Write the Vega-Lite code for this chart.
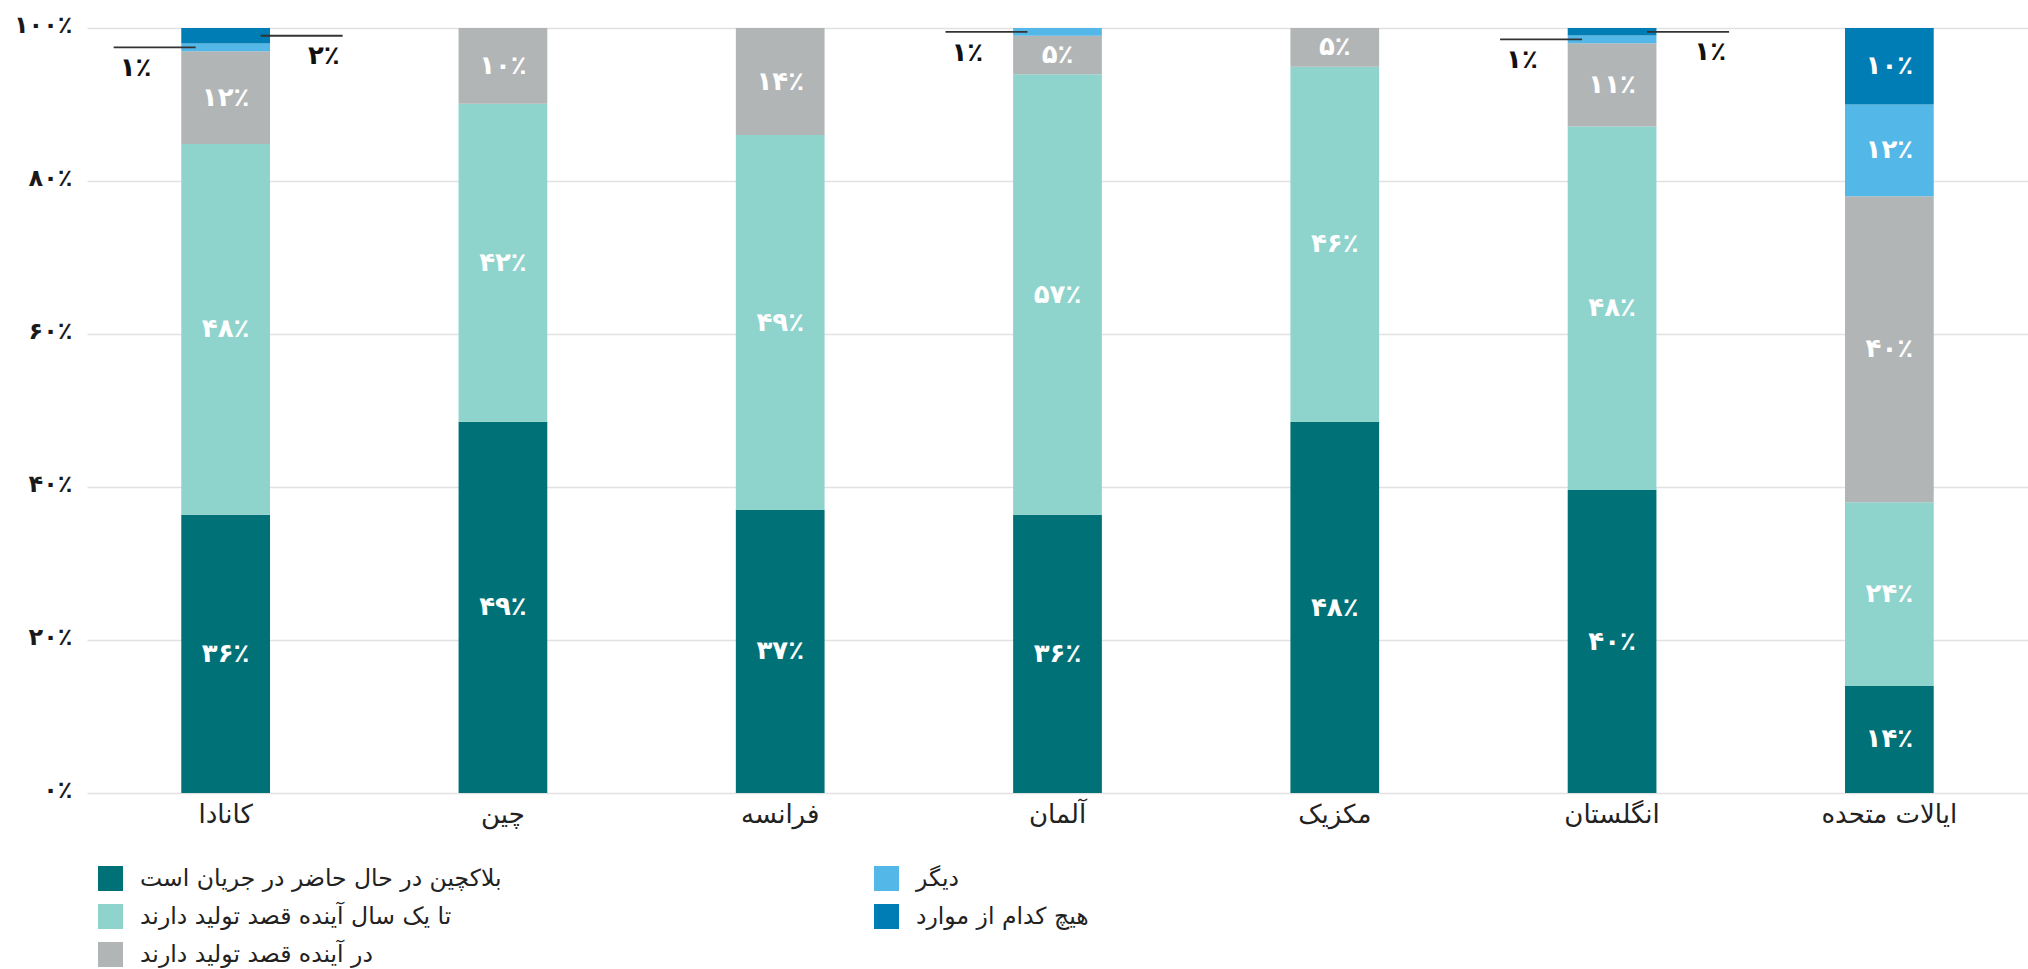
{
  "$schema": "https://vega.github.io/schema/vega-lite/v6.json",
  "width": 1941,
  "height": 765,
  "autosize": {"type": "none"},
  "padding": {"left": 87, "top": 28, "right": 0, "bottom": 176},
  "config": {
    "font": "DejaVu Sans",
    "view": {"stroke": null},
    "locale": {
      "number": {
        "decimal": ".",
        "thousands": ",",
        "grouping": [3],
        "currency": ["", ""],
        "numerals": ["۰", "۱", "۲", "۳", "۴", "۵", "۶", "۷", "۸", "۹"],
        "percent": "٪"
      }
    }
  },
  "data": {
    "values": [
      {"country": "کانادا", "category": "بلاکچین در حال حاضر در جریان است", "order": 1, "value": 0.36},
      {"country": "کانادا", "category": "تا یک سال آینده قصد تولید دارند", "order": 2, "value": 0.48},
      {"country": "کانادا", "category": "در آینده قصد تولید دارند", "order": 3, "value": 0.12},
      {"country": "کانادا", "category": "دیگر", "order": 4, "value": 0.01},
      {"country": "کانادا", "category": "هیچ کدام از موارد", "order": 5, "value": 0.02},
      {"country": "چین", "category": "بلاکچین در حال حاضر در جریان است", "order": 1, "value": 0.49},
      {"country": "چین", "category": "تا یک سال آینده قصد تولید دارند", "order": 2, "value": 0.42},
      {"country": "چین", "category": "در آینده قصد تولید دارند", "order": 3, "value": 0.10},
      {"country": "فرانسه", "category": "بلاکچین در حال حاضر در جریان است", "order": 1, "value": 0.37},
      {"country": "فرانسه", "category": "تا یک سال آینده قصد تولید دارند", "order": 2, "value": 0.49},
      {"country": "فرانسه", "category": "در آینده قصد تولید دارند", "order": 3, "value": 0.14},
      {"country": "آلمان", "category": "بلاکچین در حال حاضر در جریان است", "order": 1, "value": 0.36},
      {"country": "آلمان", "category": "تا یک سال آینده قصد تولید دارند", "order": 2, "value": 0.57},
      {"country": "آلمان", "category": "در آینده قصد تولید دارند", "order": 3, "value": 0.05},
      {"country": "آلمان", "category": "دیگر", "order": 4, "value": 0.01},
      {"country": "مکزیک", "category": "بلاکچین در حال حاضر در جریان است", "order": 1, "value": 0.48},
      {"country": "مکزیک", "category": "تا یک سال آینده قصد تولید دارند", "order": 2, "value": 0.46},
      {"country": "مکزیک", "category": "در آینده قصد تولید دارند", "order": 3, "value": 0.05},
      {"country": "انگلستان", "category": "بلاکچین در حال حاضر در جریان است", "order": 1, "value": 0.40},
      {"country": "انگلستان", "category": "تا یک سال آینده قصد تولید دارند", "order": 2, "value": 0.48},
      {"country": "انگلستان", "category": "در آینده قصد تولید دارند", "order": 3, "value": 0.11},
      {"country": "انگلستان", "category": "دیگر", "order": 4, "value": 0.01},
      {"country": "انگلستان", "category": "هیچ کدام از موارد", "order": 5, "value": 0.01},
      {"country": "ایالات متحده", "category": "بلاکچین در حال حاضر در جریان است", "order": 1, "value": 0.14},
      {"country": "ایالات متحده", "category": "تا یک سال آینده قصد تولید دارند", "order": 2, "value": 0.24},
      {"country": "ایالات متحده", "category": "در آینده قصد تولید دارند", "order": 3, "value": 0.40},
      {"country": "ایالات متحده", "category": "دیگر", "order": 4, "value": 0.12},
      {"country": "ایالات متحده", "category": "هیچ کدام از موارد", "order": 5, "value": 0.10}
    ]
  },
  "transform": [
    {"stack": "value", "groupby": ["country"], "sort": [{"field": "order", "order": "ascending"}], "offset": "normalize", "as": ["y0", "y1"]}
  ],
  "encoding": {
    "x": {
      "field": "country",
      "type": "nominal",
      "sort": ["کانادا", "چین", "فرانسه", "آلمان", "مکزیک", "انگلستان", "ایالات متحده"],
      "scale": {"paddingInner": 0.68, "paddingOuter": 0.34},
      "axis": {
        "title": null,
        "labelAngle": 0,
        "domain": false,
        "ticks": false,
        "grid": false,
        "labelFontSize": 26,
        "labelColor": "#222222",
        "labelPadding": 8
      }
    }
  },
  "layer": [
    {
      "mark": {"type": "bar"},
      "encoding": {
        "y": {
          "field": "y0",
          "type": "quantitative",
          "scale": {"domain": [0, 1], "nice": false},
          "axis": {
            "title": null,
            "values": [0, 0.2, 0.4, 0.6, 0.8, 1],
            "format": ".0%",
            "domain": false,
            "ticks": false,
            "labelPadding": 15,
            "labelFontSize": 24,
            "labelFontWeight": "bold",
            "labelColor": "#1a1a1a",
            "labelBaseline": "alphabetic",
            "labelOffset": 4,
            "gridColor": "#e1e1e1",
            "gridWidth": 1.5
          }
        },
        "y2": {"field": "y1"},
        "color": {
          "field": "category",
          "type": "nominal",
          "scale": {
            "domain": ["بلاکچین در حال حاضر در جریان است", "تا یک سال آینده قصد تولید دارند", "در آینده قصد تولید دارند", "دیگر", "هیچ کدام از موارد"],
            "range": ["#007176", "#8fd3cd", "#b2b5b5", "#53b8e8", "#007db5"]
          },
          "legend": {
            "title": null,
            "orient": "none",
            "legendX": 11,
            "legendY": 838,
            "columns": 2,
            "columnPadding": 372,
            "rowPadding": 13,
            "symbolType": "square",
            "symbolSize": 625,
            "symbolStrokeWidth": 0,
            "labelFontSize": 23.5,
            "labelColor": "#222222",
            "labelOffset": 17,
            "labelLimit": 600
          }
        }
      }
    },
    {
      "transform": [
        {"filter": "datum.value >= 0.03"},
        {"fold": ["y0", "y1"], "as": ["edge", "pos"]},
        {"aggregate": [{"op": "mean", "field": "pos", "as": "mid"}], "groupby": ["country", "category", "order", "value"]}
      ],
      "mark": {"type": "text", "color": "white", "fontSize": 26, "fontWeight": "bold", "baseline": "middle"},
      "encoding": {
        "y": {"field": "mid", "type": "quantitative"},
        "text": {"field": "value", "type": "quantitative", "format": ".0%"}
      }
    },
    {
      "transform": [
        {"filter": "datum.value < 0.03 && datum.order == 4"},
        {"fold": ["y0", "y1"], "as": ["edge", "pos"]},
        {"aggregate": [{"op": "mean", "field": "pos", "as": "mid"}], "groupby": ["country", "category", "order", "value"]}
      ],
      "layer": [
        {
          "mark": {"type": "rule", "color": "#333333", "strokeWidth": 1.8, "xOffset": -112, "x2Offset": -30},
          "encoding": {
            "x2": {"field": "country"},
            "y": {"field": "mid", "type": "quantitative"}
          }
        },
        {
          "mark": {"type": "text", "color": "#111111", "fontSize": 26, "fontWeight": "bold", "align": "left", "baseline": "middle", "xOffset": -106, "yOffset": 21},
          "encoding": {
            "y": {"field": "mid", "type": "quantitative"},
            "text": {"field": "value", "type": "quantitative", "format": ".0%"}
          }
        }
      ]
    },
    {
      "transform": [
        {"filter": "datum.value < 0.03 && datum.order == 5"},
        {"fold": ["y0", "y1"], "as": ["edge", "pos"]},
        {"aggregate": [{"op": "mean", "field": "pos", "as": "mid"}], "groupby": ["country", "category", "order", "value"]}
      ],
      "layer": [
        {
          "mark": {"type": "rule", "color": "#333333", "strokeWidth": 1.8, "xOffset": 35, "x2Offset": 117},
          "encoding": {
            "x2": {"field": "country"},
            "y": {"field": "mid", "type": "quantitative"}
          }
        },
        {
          "mark": {"type": "text", "color": "#111111", "fontSize": 26, "fontWeight": "bold", "align": "right", "baseline": "middle", "xOffset": 114, "yOffset": 20},
          "encoding": {
            "y": {"field": "mid", "type": "quantitative"},
            "text": {"field": "value", "type": "quantitative", "format": ".0%"}
          }
        }
      ]
    }
  ]
}
